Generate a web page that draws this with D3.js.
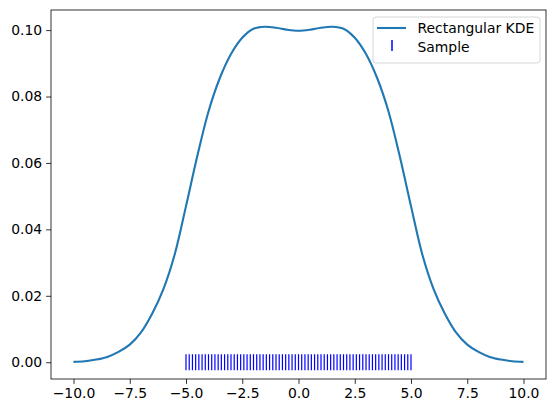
<!DOCTYPE html>
<html lang="en">
<head>
<meta charset="utf-8">
<title>Rectangular KDE</title>
<script src="https://d3js.org/d3.v7.min.js"></script>
<style>
  body { margin: 0; background: #fff; }
  text { font-family: "DejaVu Sans", sans-serif; font-size: 13.9px; fill: #000; }
</style>
</head>
<body>
<script>
// KDE curve
var kdeX = [-10, -9.5, -9, -8.5, -8, -7.5, -7, -6.5, -6, -5.5, -5, -4.5, -4, -3.5, -3, -2.5, -2, -1.5, -1, -0.5,
            0, 0.5, 1, 1.5, 2, 2.5, 3, 3.5, 4, 4.5, 5, 5.5, 6, 6.5, 7, 7.5, 8, 8.5, 9, 9.5, 10];
var kdeY = [0.0001, 0.0003, 0.0008, 0.0016, 0.0031, 0.0053, 0.0090, 0.0147, 0.0221, 0.0325, 0.0470, 0.0620, 0.0755, 0.0855, 0.0928, 0.0977, 0.1004, 0.1010, 0.1007, 0.1001,
            0.0998, 0.1001, 0.1007, 0.1010, 0.1004, 0.0977, 0.0928, 0.0855, 0.0755, 0.0620, 0.0470, 0.0325, 0.0221, 0.0147, 0.0090, 0.0053, 0.0031, 0.0016, 0.0008, 0.0003, 0.0001];

// sample points (rug)
var sample = [-5.000, -4.857, -4.714, -4.571, -4.429, -4.286, -4.143, -4.000, -3.857, -3.714,
              -3.571, -3.429, -3.286, -3.143, -3.000, -2.857, -2.714, -2.571, -2.429, -2.286,
              -2.143, -2.000, -1.857, -1.714, -1.571, -1.429, -1.286, -1.143, -1.000, -0.857,
              -0.714, -0.571, -0.429, -0.286, -0.143, 0.000, 0.143, 0.286, 0.429, 0.571,
              0.714, 0.857, 1.000, 1.143, 1.286, 1.429, 1.571, 1.714, 1.857, 2.000,
              2.143, 2.286, 2.429, 2.571, 2.714, 2.857, 3.000, 3.143, 3.286, 3.429,
              3.571, 3.714, 3.857, 4.000, 4.143, 4.286, 4.429, 4.571, 4.714, 4.857, 5.000];

var xTicks = [-10, -7.5, -5, -2.5, 0, 2.5, 5, 7.5, 10];
var yTicks = [0, 0.02, 0.04, 0.06, 0.08, 0.10];
var legendLabels = ["Rectangular KDE", "Sample"];

var W = 556, H = 413;
var mLeft = 51, mTop = 10, pw = 495, ph = 369;

var svg = d3.select("body").append("svg")
    .attr("width", W).attr("height", H);

var x = d3.scaleLinear().domain([-11, 11]).range([mLeft, mLeft + pw]);
var y = d3.scaleLinear().domain([-0.00505, 0.10605]).range([mTop + ph, mTop]);

var fmtMinus = function(s) { return s.replace("-", "\u2212"); };

// axes
var xAxis = d3.axisBottom(x).tickValues(xTicks).tickSize(4.9).tickPadding(4)
    .tickFormat(function(d) { return fmtMinus(d3.format(".1f")(d)); });
var yAxis = d3.axisLeft(y).tickValues(yTicks).tickSize(4.9).tickPadding(4)
    .tickFormat(function(d) { return d3.format(".2f")(d); });

var gx = svg.append("g").attr("transform", "translate(0," + (mTop + ph) + ")").call(xAxis);
var gy = svg.append("g").attr("transform", "translate(" + mLeft + ",0)").call(yAxis);
[gx, gy].forEach(function(g) {
  g.select(".domain").remove();
  g.selectAll("line").attr("stroke", "#000").attr("stroke-width", 0.8);
  g.selectAll("text").attr("font-family", "DejaVu Sans").attr("font-size", "13.9px").attr("fill", "#000");
});

// KDE line
var line = d3.line()
    .x(function(d, i) { return x(kdeX[i]); })
    .y(function(d) { return y(d); })
    .curve(d3.curveCatmullRom.alpha(0.5));

svg.append("path")
    .datum(kdeY)
    .attr("d", line)
    .attr("fill", "none")
    .attr("stroke", "#1f77b4")
    .attr("stroke-width", 2.1);

// rug
svg.append("g").selectAll("line")
    .data(sample)
    .enter().append("line")
    .attr("x1", function(d) { return x(d); })
    .attr("x2", function(d) { return x(d); })
    .attr("y1", y(0) - 8)
    .attr("y2", y(0) + 8)
    .attr("stroke", "blue")
    .attr("stroke-width", 1.2);

// frame
svg.append("rect")
    .attr("x", mLeft).attr("y", mTop).attr("width", pw).attr("height", ph)
    .attr("fill", "none").attr("stroke", "#000").attr("stroke-width", 0.8);

// legend
var lg = svg.append("g").attr("transform", "translate(373,17)");
lg.append("rect")
    .attr("width", 167).attr("height", 46).attr("rx", 3)
    .attr("fill", "#fff").attr("fill-opacity", 0.8)
    .attr("stroke", "#cccccc").attr("stroke-width", 0.8);
lg.append("line").attr("x1", 4).attr("x2", 33).attr("y1", 11).attr("y2", 11)
    .attr("stroke", "#1f77b4").attr("stroke-width", 2.1);
lg.append("line").attr("x1", 19).attr("x2", 19).attr("y1", 23).attr("y2", 34)
    .attr("stroke", "blue").attr("stroke-width", 1.5);
lg.selectAll("text.lab")
    .data(legendLabels)
    .enter().append("text")
    .attr("class", "lab")
    .attr("x", 44.5)
    .attr("y", function(d, i) { return 16 + i * 19; })
    .text(function(d) { return d; });
</script>
</body>
</html>
